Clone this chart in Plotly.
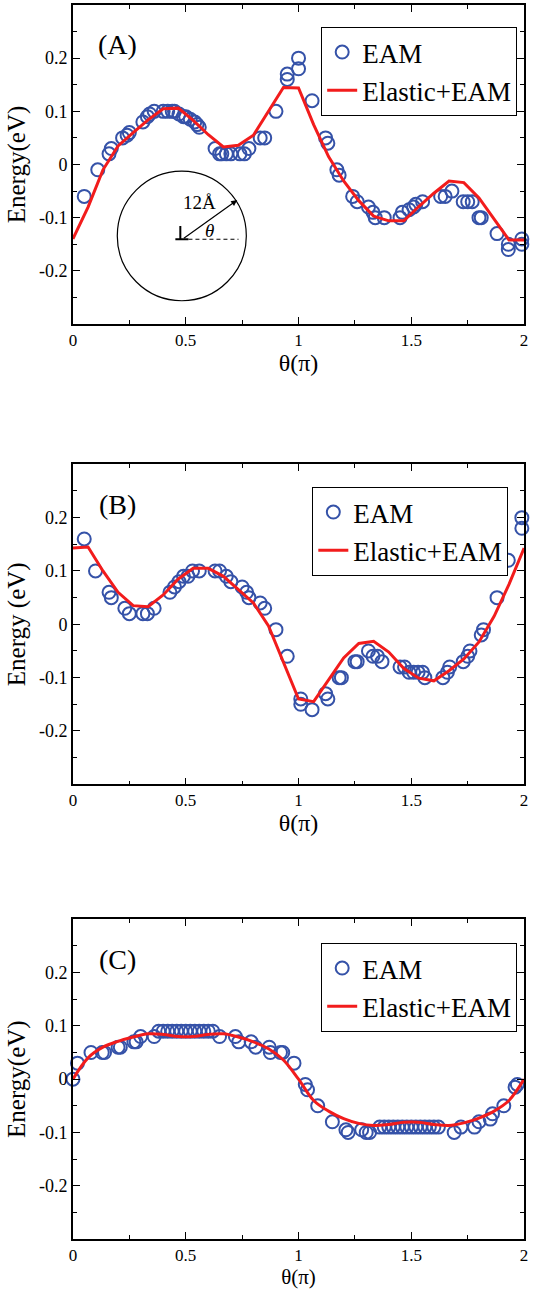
import plotly.graph_objects as go

# ---------------- data ----------------
theta_grid = [0, 0.067, 0.133, 0.2, 0.267, 0.333, 0.4, 0.467, 0.533, 0.6, 0.667, 0.733, 0.8,
              0.867, 0.933, 1.0, 1.067, 1.133, 1.2, 1.267, 1.333, 1.4, 1.467, 1.533, 1.6,
              1.667, 1.733, 1.8, 1.867, 1.933, 2.0]

# Panel A
a_eam_x = [0.05, 0.11, 0.16, 0.17, 0.22, 0.24, 0.25,
           0.31, 0.33, 0.34, 0.36, 0.40, 0.42, 0.44, 0.45, 0.47, 0.49, 0.50, 0.52, 0.54, 0.55, 0.56,
           0.63, 0.65, 0.66, 0.68, 0.70, 0.74, 0.76, 0.78,
           0.83, 0.85, 0.90, 0.95, 0.95, 1.00, 1.00, 1.06,
           1.12, 1.13, 1.17, 1.18, 1.24, 1.26, 1.31, 1.33, 1.34, 1.38,
           1.45, 1.46, 1.49, 1.51, 1.52, 1.55,
           1.63, 1.65, 1.68, 1.73, 1.75, 1.77, 1.80, 1.81,
           1.88, 1.93, 1.93, 1.99, 1.99]
a_eam_y = [-0.06, -0.01, 0.02, 0.03, 0.05, 0.055, 0.06,
           0.08, 0.09, 0.095, 0.10, 0.10, 0.10, 0.10, 0.10, 0.095, 0.09, 0.09, 0.085, 0.08, 0.075, 0.07,
           0.03, 0.02, 0.02, 0.02, 0.02, 0.02, 0.02, 0.03,
           0.05, 0.05, 0.10, 0.17, 0.16, 0.20, 0.18, 0.12,
           0.05, 0.04, -0.01, -0.02, -0.06, -0.07, -0.08, -0.09, -0.10, -0.10,
           -0.10, -0.09, -0.085, -0.08, -0.075, -0.07,
           -0.06, -0.06, -0.05, -0.07, -0.07, -0.07, -0.10, -0.10,
           -0.13, -0.15, -0.16, -0.14, -0.15]
a_line_y = [-0.14, -0.08, -0.01, 0.035, 0.06, 0.084, 0.105, 0.106, 0.083, 0.056, 0.033, 0.036,
            0.055, 0.10, 0.145, 0.144, 0.075, 0.015, -0.031, -0.068, -0.097, -0.106, -0.106,
            -0.079, -0.054, -0.031, -0.034, -0.063, -0.103, -0.142, -0.142]

# Panel B
b_eam_x = [0.05, 0.10, 0.16, 0.17, 0.23, 0.25,
           0.31, 0.33, 0.36,
           0.43, 0.45, 0.47, 0.49, 0.51, 0.53, 0.56,
           0.63, 0.65, 0.68, 0.70,
           0.75, 0.77, 0.78, 0.83, 0.85,
           0.90, 0.95, 1.01, 1.01, 1.06, 1.12, 1.13,
           1.18, 1.19, 1.25, 1.26, 1.31, 1.33, 1.35, 1.37,
           1.45, 1.47, 1.49, 1.51, 1.53, 1.55, 1.56,
           1.64, 1.66, 1.67, 1.73, 1.75, 1.76,
           1.81, 1.82, 1.88, 1.93, 1.99, 1.99]
b_eam_y = [0.16, 0.10, 0.06, 0.05, 0.03, 0.02,
           0.02, 0.02, 0.03,
           0.06, 0.07, 0.08, 0.09, 0.09, 0.10, 0.10,
           0.10, 0.10, 0.09, 0.08,
           0.07, 0.06, 0.05, 0.04, 0.03,
           -0.01, -0.06, -0.14, -0.15, -0.16, -0.13, -0.14,
           -0.10, -0.10, -0.07, -0.07, -0.05, -0.06, -0.06, -0.07,
           -0.08, -0.08, -0.09, -0.09, -0.09, -0.09, -0.10,
           -0.10, -0.09, -0.08, -0.07, -0.06, -0.05,
           -0.02, -0.01, 0.05, 0.12, 0.20, 0.18]
b_line_y = [0.143, 0.145, 0.10, 0.06, 0.035, 0.033, 0.055, 0.085, 0.105, 0.105, 0.09, 0.065,
            0.04, -0.003, -0.07, -0.14, -0.145, -0.105, -0.063, -0.036, -0.032, -0.052, -0.083,
            -0.101, -0.106, -0.087, -0.065, -0.033, 0.015, 0.075, 0.143]

# Panel C
c_eam_x = [0.0, 0.02, 0.08, 0.13, 0.14, 0.20, 0.21, 0.27, 0.28, 0.30, 0.36,
           0.38, 0.40, 0.42, 0.44, 0.46, 0.48, 0.50, 0.52, 0.54, 0.56, 0.58, 0.60, 0.62,
           0.65, 0.72, 0.735, 0.79, 0.81, 0.87, 0.875, 0.92, 0.93, 0.98,
           1.03, 1.04, 1.085, 1.15, 1.21, 1.22, 1.28, 1.30, 1.315,
           1.36, 1.38, 1.40, 1.42, 1.44, 1.46, 1.48, 1.50, 1.52, 1.54, 1.56, 1.58, 1.60, 1.62,
           1.69, 1.72, 1.78, 1.80, 1.85, 1.86, 1.91, 1.96, 1.97]
c_eam_y = [0.0, 0.03, 0.05, 0.05, 0.05, 0.06, 0.06, 0.07, 0.07, 0.08, 0.08,
           0.09, 0.09, 0.09, 0.09, 0.09, 0.09, 0.09, 0.09, 0.09, 0.09, 0.09, 0.09, 0.09,
           0.08, 0.08, 0.07, 0.07, 0.06, 0.06, 0.05, 0.05, 0.05, 0.03,
           -0.01, -0.02, -0.05, -0.08, -0.095, -0.10, -0.095, -0.10, -0.10,
           -0.09, -0.09, -0.09, -0.09, -0.09, -0.09, -0.09, -0.09, -0.09, -0.09, -0.09, -0.09, -0.09, -0.09,
           -0.10, -0.09, -0.09, -0.08, -0.075, -0.065, -0.05, -0.015, -0.01]
c_line_y = [0.0, 0.04, 0.06, 0.071, 0.079, 0.085, 0.084, 0.08, 0.08, 0.084, 0.085, 0.079,
            0.07, 0.057, 0.036, 0.0, -0.04, -0.06, -0.074, -0.083, -0.087, -0.085, -0.081,
            -0.081, -0.085, -0.087, -0.082, -0.073, -0.06, -0.04, 0.0]

x_tickvals = [0, 0.5, 1, 1.5, 2]
x_ticktext = ["0", "0.5", "1", "1.5", "2"]
y_tickvals = [-0.2, -0.1, 0, 0.1, 0.2]
y_ticktext = ["-0.2", "-0.1", "0", "0.1", "0.2"]

panel_labels = ["(A)", "(B)", "(C)"]
y_titles = ["Energy(eV)", "Energy (eV)", "Energy(eV)"]
x_title = "θ(π)"

# ---------------- style ----------------
W, H = 535, 1289
FONT = "Liberation Serif"
BLUE = "#3552A8"
RED = "#F21C1C"

# pixel boxes of the three plot areas (left, right, top, bottom)
x_left, x_right = 70, 528
panel_tops = [5, 464.3, 919.3]
panel_bots = [324, 784.3, 1239]
legend_pos = [(322, 27), (313, 487), (322, 943)]
x_title_sizes = [24, 24, 21]
x_title_standoffs = [0, 0, 1]

fig = go.Figure()

panels = [(a_eam_x, a_eam_y, a_line_y), (b_eam_x, b_eam_y, b_line_y), (c_eam_x, c_eam_y, c_line_y)]
for i, (ex, ey, ly) in enumerate(panels):
    sfx = "" if i == 0 else str(i + 1)
    leg = "legend" + sfx
    fig.add_trace(go.Scatter(
        x=ex, y=ey, mode="markers", name="EAM",
        marker=dict(symbol="circle-open", size=13, color=BLUE, line=dict(width=2, color=BLUE)),
        xaxis="x" + sfx, yaxis="y" + sfx, legend=leg, cliponaxis=False))
    fig.add_trace(go.Scatter(
        x=theta_grid, y=ly, mode="lines", name="Elastic+EAM",
        line=dict(color=RED, width=3, shape="spline" if i == 2 else "linear"),
        xaxis="x" + sfx, yaxis="y" + sfx, legend=leg, cliponaxis=False))

axis_common = dict(
    showline=True, linecolor="black", linewidth=1.5, mirror="ticks",
    ticks="inside", ticklen=7, tickwidth=1, tickcolor="black",
    showgrid=False, zeroline=False,
)

layout = dict(
    width=W, height=H, margin=dict(l=0, r=0, t=0, b=0),
    paper_bgcolor="white", plot_bgcolor="white",
    font=dict(family=FONT, color="black"),
    showlegend=True,
)

annotations = []
shapes = []
for i in range(3):
    sfx = "" if i == 0 else str(i + 1)
    ydom = [1 - panel_bots[i] / H, 1 - panel_tops[i] / H]
    layout["xaxis" + sfx] = dict(
        axis_common, domain=[x_left / W, x_right / W], anchor="y" + sfx,
        range=[0, 2], tickmode="array", tickvals=x_tickvals, ticktext=x_ticktext,
        tickfont=dict(family=FONT, size=17, color="black"),
        minor=dict(tickmode="linear", tick0=0, dtick=0.25, ticklen=4, ticks="inside",
                   tickcolor="black", showgrid=False),
        title=dict(text=x_title, font=dict(family=FONT, size=x_title_sizes[i]),
                   standoff=x_title_standoffs[i]),
    )
    layout["yaxis" + sfx] = dict(
        axis_common, domain=ydom, anchor="x" + sfx,
        range=[-0.3, 0.3], tickmode="array", tickvals=y_tickvals, ticktext=y_ticktext,
        tickfont=dict(family=FONT, size=18, color="black"),
        minor=dict(tickmode="linear", tick0=0, dtick=0.05, ticklen=4, ticks="inside",
                   tickcolor="black", showgrid=False),
        title=dict(text=y_titles[i], font=dict(family=FONT, size=25), standoff=6),
    )
    lx, ly_ = legend_pos[i]
    layout["legend" + sfx] = dict(
        x=lx / W, y=1 - ly_ / H, xanchor="left", yanchor="top",
        bordercolor="black", borderwidth=1, bgcolor="white",
        font=dict(family=FONT, size=27, color="black"), tracegroupgap=0,
    )
    annotations.append(dict(
        text=panel_labels[i], x=0.199, y=0.225, xref="x" + sfx, yref="y" + sfx,
        showarrow=False, font=dict(family=FONT, size=28, color="black"),
        xanchor="center", yanchor="middle"))

# inset sketch in panel A (axis coordinates of panel A)
shapes.append(dict(type="circle", xref="x", yref="y", x0=0.1965, x1=0.7686, y0=-0.2563, y1=-0.0126,
                   line=dict(color="black", width=1.2)))
shapes.append(dict(type="line", xref="x", yref="y", x0=0.454, x1=0.512, y0=-0.1406, y1=-0.1406,
                   line=dict(color="black", width=2)))
shapes.append(dict(type="line", xref="x", yref="y", x0=0.476, x1=0.476, y0=-0.1406, y1=-0.1157,
                   line=dict(color="black", width=2)))
shapes.append(dict(type="line", xref="x", yref="y", x0=0.512, x1=0.734, y0=-0.1406, y1=-0.1406,
                   line=dict(color="black", width=1.2, dash="4px,3px")))
annotations.append(dict(x=0.728, y=-0.067, ax=0.485, ay=-0.1406, xref="x", yref="y",
                        axref="x", ayref="y", text="", showarrow=True, arrowhead=2,
                        arrowsize=1, arrowwidth=1.2, arrowcolor="black"))
annotations.append(dict(x=0.559, y=-0.0713, xref="x", yref="y", text="12Å", showarrow=False,
                        font=dict(family=FONT, size=19, color="black")))
annotations.append(dict(x=0.607, y=-0.1238, xref="x", yref="y", text="<i>θ</i>", showarrow=False,
                        font=dict(family=FONT, size=19, color="black")))

layout["annotations"] = annotations
layout["shapes"] = shapes
fig.update_layout(**layout)

fig.write_html("out.html")
